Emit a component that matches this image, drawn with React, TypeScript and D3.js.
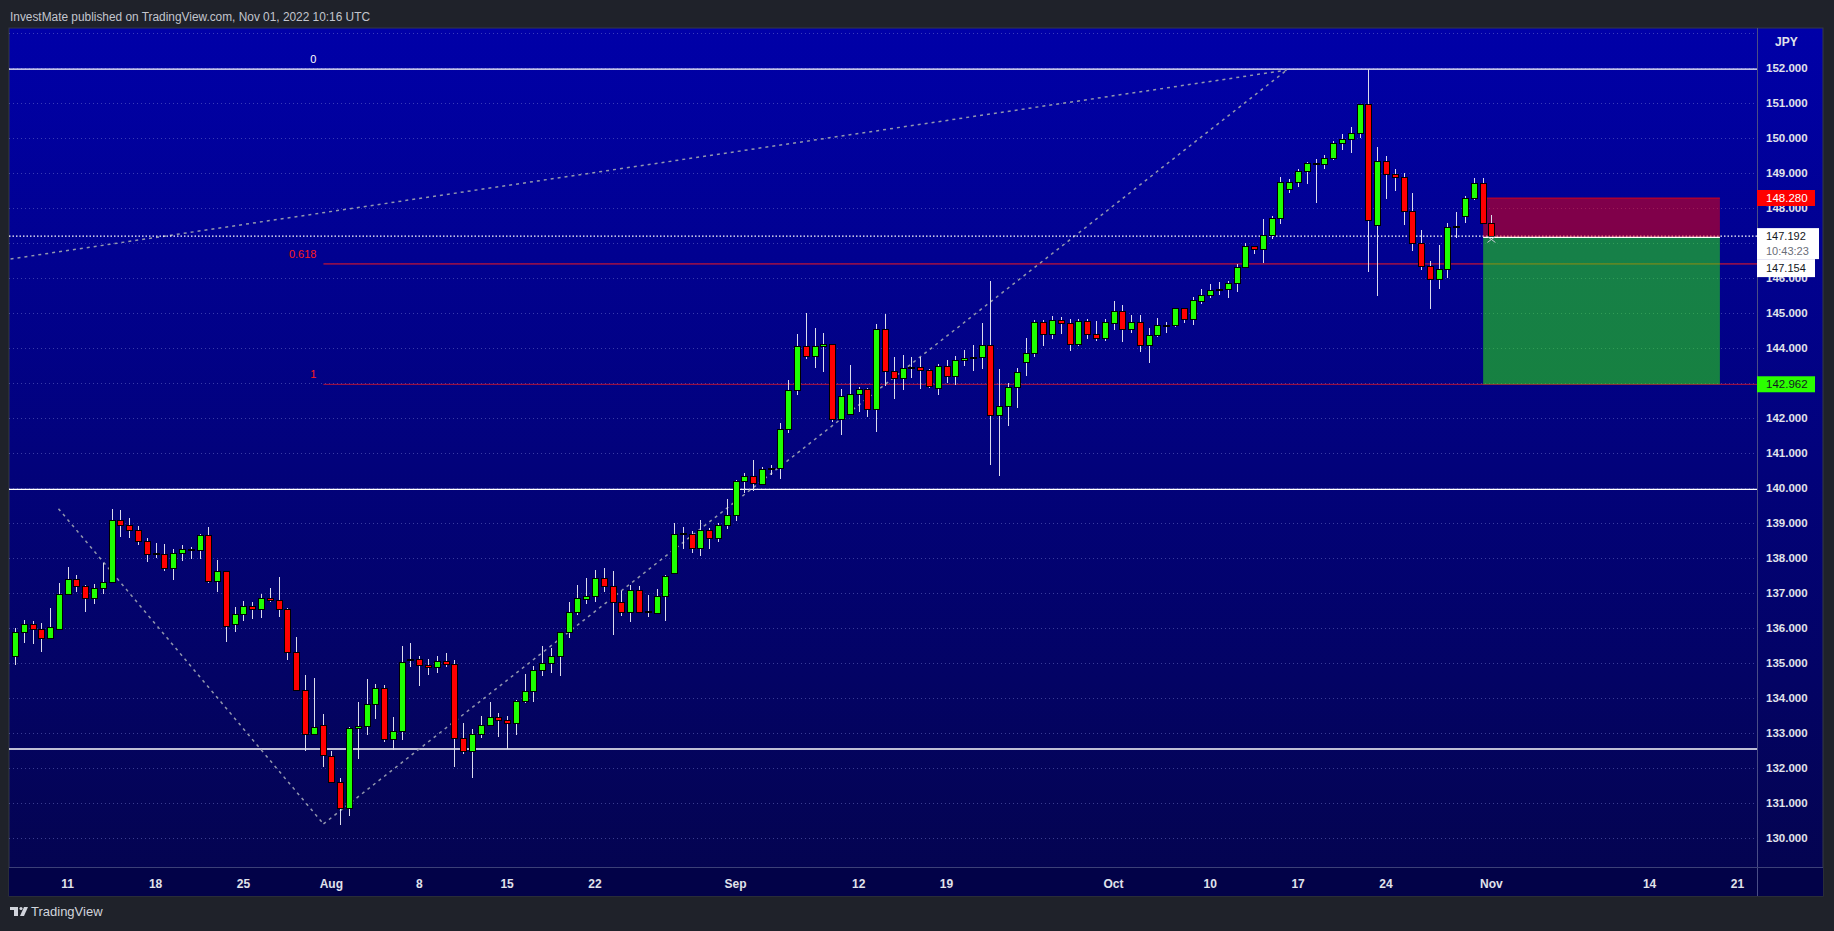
import * as d3 from 'd3'

// 12h bars of USDJPY, bar 0 = first bar of Jul 11 2022
const firstBar = -6

const opens = [
  135.19, 135.88, 136.11, 135.97, 135.7, 135.97, 136.97, 137.4, 137.19, 136.85,
  137.14, 137.31, 139.07, 138.93, 138.78, 138.47, 138.11, 138.11, 137.71, 138.14,
  138.23, 138.22, 138.65, 137.33, 137.62, 136.11, 136.4, 136.61, 136.54, 136.85,
  136.79, 136.54, 135.31, 134.22, 132.97, 133.21, 132.34, 131.6, 130.85, 133.14,
  133.19, 133.82, 134.28, 132.82, 133.04, 135.09, 135.1, 134.94, 134.88, 135.05,
  134.96, 132.85, 132.49, 132.97, 133.22, 133.45, 133.37, 133.28, 133.91, 134.19,
  134.79, 134.99, 135.19, 135.88, 136.45, 136.82, 136.9, 137.42, 137.18, 136.73,
  136.45, 137.08, 136.45, 136.42, 136.91, 137.56, 138.68, 138.68, 138.28, 138.79,
  138.56, 138.93, 139.22, 140.18, 140.33, 140.1, 140.55, 140.55, 141.67, 142.79,
  144.04, 143.75, 144.04, 144.1, 141.96, 142.1, 142.66, 142.82, 142.25, 144.53,
  143.33, 143.12, 143.43, 143.44, 143.36, 142.84, 143.47, 143.19, 143.64, 143.71,
  143.73, 144.06, 142.06, 142.33, 142.87, 143.59, 143.84, 144.73, 144.39, 144.79,
  144.7, 144.1, 144.76, 144.39, 144.27, 144.7, 145.03, 144.53, 144.72, 144.08,
  144.36, 144.64, 144.64, 145.12, 144.82, 145.33, 145.5, 145.65, 145.66, 145.83,
  146.29, 146.9, 146.81, 147.2, 147.7, 148.52, 148.72, 149.04, 149.26, 149.24,
  149.4, 149.84, 149.95, 150.11, 150.95, 147.49, 149.33, 148.95, 148.87, 147.9,
  146.97, 146.33, 145.96, 146.24, 147.44, 147.75, 148.26, 148.7, 147.56,
]
const highs = [
  136.0, 136.23, 136.21, 136.14, 136.57, 137.28, 137.74, 137.52, 137.23, 137.26,
  137.87, 139.4, 139.37, 139.15, 138.92, 138.56, 138.42, 138.4, 138.26, 138.37,
  138.33, 138.69, 138.9, 137.95, 137.62, 136.6, 136.78, 136.75, 136.98, 137.14,
  137.46, 136.58, 135.74, 134.66, 134.57, 133.55, 132.49, 131.71, 133.17, 133.89,
  134.54, 134.4, 134.37, 133.46, 135.49, 135.57, 135.2, 135.13, 135.2, 135.3,
  135.09, 133.29, 133.12, 133.49, 133.89, 133.57, 133.49, 133.95, 134.69, 134.92,
  135.49, 135.42, 135.9, 136.75, 137.23, 137.43, 137.65, 137.72, 137.63, 137.06,
  137.23, 137.2, 136.94, 137.12, 137.52, 139.0, 138.89, 138.77, 139.08, 138.87,
  139.0, 139.69, 140.23, 140.43, 140.8, 140.61, 140.66, 141.86, 143.08, 144.4,
  144.99, 144.57, 144.44, 144.12, 142.83, 143.51, 142.87, 142.86, 144.68, 144.97,
  143.74, 143.8, 143.73, 143.73, 143.39, 143.54, 143.65, 143.77, 143.94, 144.08,
  144.71, 145.92, 143.4, 143.0, 143.44, 144.28, 144.8, 144.8, 144.91, 144.88,
  144.82, 144.82, 144.82, 144.77, 144.82, 145.35, 145.22, 144.94, 144.94, 144.56,
  144.84, 144.73, 145.15, 145.15, 145.46, 145.68, 145.82, 145.89, 145.91, 146.39,
  147.0, 146.9, 147.68, 147.77, 148.88, 148.82, 149.12, 149.32, 149.39, 149.51,
  149.91, 150.1, 150.3, 150.97, 151.96, 149.73, 149.48, 149.11, 148.99, 148.42,
  147.37, 146.48, 146.94, 147.58, 147.89, 148.34, 148.85, 148.85, 147.79,
]
const lows = [
  134.95, 135.57, 135.56, 135.33, 135.68, 135.95, 136.95, 137.04, 136.47, 136.69,
  136.98, 137.31, 138.61, 138.58, 138.37, 137.9, 137.99, 137.64, 137.38, 137.92,
  137.98, 137.98, 137.3, 137.03, 135.59, 135.89, 136.21, 136.26, 136.3, 136.76,
  136.33, 135.09, 134.2, 132.5, 132.95, 132.04, 131.58, 130.38, 130.63, 132.26,
  132.95, 133.4, 132.76, 132.52, 132.82, 134.9, 134.35, 134.66, 134.73, 134.9,
  132.04, 132.42, 131.73, 132.87, 133.2, 132.9, 132.54, 132.95, 133.87, 133.9,
  134.63, 134.73, 134.63, 135.73, 136.37, 136.69, 136.76, 137.04, 135.81, 136.35,
  136.18, 136.42, 136.33, 136.42, 136.21, 137.56, 138.27, 138.15, 138.07, 138.27,
  138.47, 138.84, 139.07, 139.87, 139.92, 140.1, 140.37, 140.26, 141.58, 142.65,
  143.69, 143.43, 143.32, 141.89, 141.51, 142.1, 142.18, 142.03, 141.61, 142.91,
  142.55, 142.81, 143.15, 142.84, 142.85, 142.66, 142.99, 142.94, 143.48, 143.35,
  143.41, 140.67, 140.35, 141.78, 142.29, 143.2, 143.75, 144.05, 144.25, 144.41,
  143.92, 144.05, 144.25, 144.21, 144.2, 144.51, 144.18, 144.43, 143.89, 143.56,
  144.32, 144.42, 144.59, 144.72, 144.65, 145.26, 145.43, 145.51, 145.43, 145.6,
  146.29, 146.68, 146.43, 147.11, 147.55, 148.43, 148.6, 148.69, 148.15, 149.12,
  149.37, 149.65, 149.57, 149.99, 146.18, 145.49, 148.25, 148.49, 147.51, 146.77,
  146.22, 145.11, 145.68, 145.99, 147.15, 147.57, 148.23, 147.54, 147.19,
]
const closes = [
  135.87, 136.11, 135.97, 135.71, 136.02, 136.97, 137.4, 137.19, 136.85, 137.14,
  137.31, 139.07, 138.93, 138.78, 138.47, 138.11, 138.11, 137.71, 138.14, 138.25,
  138.23, 138.65, 137.33, 137.62, 136.04, 136.4, 136.61, 136.54, 136.84, 136.8,
  136.54, 135.31, 134.22, 132.97, 133.17, 132.35, 131.6, 130.85, 133.14, 133.19,
  133.82, 134.28, 132.82, 133.04, 135.02, 135.09, 134.94, 134.88, 135.04, 134.97,
  132.85, 132.49, 132.97, 133.22, 133.45, 133.37, 133.28, 133.91, 134.19, 134.79,
  134.99, 135.19, 135.88, 136.45, 136.85, 136.91, 137.42, 137.18, 136.73, 136.45,
  137.08, 136.45, 136.45, 136.91, 137.48, 138.68, 138.68, 138.28, 138.79, 138.56,
  138.93, 139.22, 140.18, 140.33, 140.12, 140.52, 140.55, 141.67, 142.79, 144.04,
  143.75, 144.04, 144.1, 141.96, 142.62, 142.66, 142.82, 142.25, 144.53, 143.33,
  143.12, 143.42, 143.43, 143.36, 142.89, 143.47, 143.19, 143.64, 143.7, 143.71,
  144.06, 142.08, 142.33, 142.87, 143.3, 143.84, 144.73, 144.38, 144.79, 144.7,
  144.1, 144.76, 144.39, 144.27, 144.73, 145.03, 144.53, 144.72, 144.08, 144.35,
  144.63, 144.64, 145.12, 144.82, 145.35, 145.49, 145.63, 145.65, 145.83, 146.29,
  146.9, 146.81, 147.2, 147.7, 148.73, 148.73, 149.04, 149.27, 149.26, 149.4,
  149.84, 149.95, 150.12, 150.95, 147.63, 149.33, 148.95, 148.87, 147.9, 146.97,
  146.33, 145.96, 146.24, 147.44, 147.44, 148.27, 148.7, 147.56, 147.19,
]

// time axis: bar index of each label
const timeTicks = [0, 10, 20, 30, 40, 50, 60, 76, 90, 100, 119, 130, 140, 150, 162, 180, 190]
const timeLabels = ['11', '18', '25', 'Aug', '8', '15', '22', 'Sep', '12', '19', 'Oct', '10', '17', '24', 'Nov', '14', '21']

const priceTicks = d3.range(130, 153)
const gridLevels = d3.range(130, 154)

// drawings
const horizontalLines = [151.96, 139.96, 132.55]
const fibStartBar = 29.1
const fibTop = 151.96
const fibBottom = 142.96
const fibLevels = [0, 0.618, 1]
const fibColors = ['#ffffff', '#ff1a1a', '#ff1a1a']
const trendLines = [
  [[-1.05, 139.41], [29.1, 130.41]],
  [[29.1, 130.41], [138.7, 151.93]],
  [[-6.5, 146.54], [138.7, 151.93]],
]
const lastPrice = 147.192
const countdown = '10:43:23'
const entryPrice = 147.154
const stopPrice = 148.28
const targetPrice = 142.962
const positionBars = [161.06, 188]

const W = 1834
const H = 931
const PANEL = { left: 9, top: 28, right: 1823, bottom: 896 }
const PLOT_RIGHT = 1757
const TIME_TOP = 867

const UP = '#1eff00'
const DOWN = '#ff0000'
const FONT = '"Liberation Sans", Arial, sans-serif'

export default function App() {
  const xs = d3.scaleLinear().domain([0, 162]).range([67.7, 1491.4])
  const ys = d3.scaleLinear().domain([130, 152]).range([838.3, 67.7])

  const candles = opens.map((o, i) => ({
    k: firstBar + i, o, h: highs[i], l: lows[i], c: closes[i],
  }))

  const line = d3.line<number[]>().x(d => xs(d[0])).y(d => ys(d[1]))
  const fibX = xs(fibStartBar)
  const posX0 = xs(positionBars[0])
  const posX1 = xs(positionBars[1])
  const tagX = PLOT_RIGHT
  const lastY = ys(lastPrice)

  // the white last-price / entry tags hide the tick label underneath them
  const tagTop = lastY - 8
  const tagBottom = lastY + 41
  const visibleTicks = priceTicks.filter(p => !(ys(p) - 5 >= tagTop && ys(p) + 5 <= tagBottom))

  return (
    <svg width={W} height={H} style={{ position: 'absolute', left: 0, top: 0 }} fontFamily={FONT}>
      <defs>
        <linearGradient id="bg" x1="0" y1="0" x2="0" y2="1">
          <stop offset="0%" stopColor="#0000a8" />
          <stop offset="100%" stopColor="#04044e" />
        </linearGradient>
        <clipPath id="plot">
          <rect x={PANEL.left} y={PANEL.top} width={PLOT_RIGHT - PANEL.left} height={TIME_TOP - PANEL.top} />
        </clipPath>
      </defs>

      <rect width={W} height={H} fill="#1f222a" />
      <rect x={PANEL.left} y={PANEL.top} width={PANEL.right - PANEL.left} height={PANEL.bottom - PANEL.top}
        fill="url(#bg)" stroke="#343846" />
      <rect x={PANEL.left} y={TIME_TOP} width={PANEL.right - PANEL.left} height={PANEL.bottom - TIME_TOP} fill="#020248" />

      <g clipPath="url(#plot)">
        {/* grid */}
        {gridLevels.map(p => (
          <line key={p} x1={PANEL.left} x2={PLOT_RIGHT} y1={Math.round(ys(p)) + 0.5} y2={Math.round(ys(p)) + 0.5}
            stroke="#7f86d8" strokeOpacity={0.45} strokeDasharray="1 3" />
        ))}

        {horizontalLines.map(p => (
          <line key={p} x1={PANEL.left} x2={PLOT_RIGHT} y1={ys(p)} y2={ys(p)} stroke="#ffffff" strokeWidth={1.3} />
        ))}

        {fibLevels.slice(1).map((lv, i) => {
          const y = ys(fibTop - lv * (fibTop - fibBottom))
          return <line key={lv} x1={fibX} x2={PLOT_RIGHT} y1={y} y2={y} stroke={fibColors[i + 1]}
            strokeWidth={1} strokeOpacity={i === 0 ? 0.95 : 0.7} />
        })}
        {fibLevels.map((lv, i) => (
          <text key={lv} x={fibX - 7} y={ys(fibTop - lv * (fibTop - fibBottom)) - 6} fill={fibColors[i]}
            fontSize={11} textAnchor="end">{String(lv)}</text>
        ))}

        {trendLines.map((pts, i) => (
          <path key={i} d={line(pts) ?? ''} fill="none" stroke="#9297ad" strokeWidth={1.5} strokeDasharray="3 4" />
        ))}

        <line x1={PANEL.left} x2={PLOT_RIGHT} y1={lastY} y2={lastY} stroke="#ffffff" strokeWidth={1.2} strokeDasharray="1.5 2" />

        {/* position tool */}
        <rect x={posX0} y={ys(stopPrice)} width={posX1 - posX0} height={ys(entryPrice) - ys(stopPrice)}
          fill="#ff0000" fillOpacity={0.5} />
        <rect x={posX0} y={ys(entryPrice)} width={posX1 - posX0} height={ys(targetPrice) - ys(entryPrice)}
          fill="#2bff00" fillOpacity={0.5} />
        <line x1={posX0} x2={posX1} y1={ys(stopPrice)} y2={ys(stopPrice)} stroke="#ff0000" strokeOpacity={0.7} />

        {/* candles */}
        <g shapeRendering="crispEdges">
          {candles.map(d => {
            const x = Math.round(xs(d.k))
            const doji = Math.abs(d.c - d.o) < 0.02
            const top = ys(Math.max(d.o, d.c))
            const bot = ys(Math.min(d.o, d.c))
            return (
              <g key={d.k}>
                <line x1={x + 0.5} x2={x + 0.5} y1={ys(d.h)} y2={ys(d.l)} stroke="#dcdcec" />
                {doji ? (
                  <line x1={x - 3} x2={x + 4} y1={top} y2={top} stroke="#000000" strokeWidth={2} />
                ) : (
                  <rect x={x - 2.5} y={top} width={6} height={Math.max(1, bot - top)}
                    fill={d.c > d.o ? UP : DOWN} stroke="#000000" strokeWidth={1} />
                )}
              </g>
            )
          })}
        </g>

        <line x1={posX0} x2={posX1} y1={ys(entryPrice)} y2={ys(entryPrice)} stroke="#ffffff" strokeWidth={1.3} />
        <g stroke="#c8cad6" strokeWidth={1}>
          <line x1={xs(162) - 4} x2={xs(162) + 4} y1={ys(entryPrice) + 5} y2={ys(entryPrice) - 1} />
          <line x1={xs(162) - 4} x2={xs(162) + 4} y1={ys(entryPrice) - 1} y2={ys(entryPrice) + 5} />
        </g>
      </g>

      {/* axes separators */}
      <line x1={PLOT_RIGHT + 0.5} x2={PLOT_RIGHT + 0.5} y1={PANEL.top} y2={PANEL.bottom} stroke="#4a4e86" />
      <line x1={PANEL.left} x2={PANEL.right} y1={TIME_TOP + 0.5} y2={TIME_TOP + 0.5} stroke="#3c4078" />

      {/* price axis */}
      <text x={1775} y={46} fill="#e0e3eb" fontSize={12} fontWeight="bold">JPY</text>
      {visibleTicks.map(p => (
        <text key={p} x={1766} y={ys(p) + 4} fill="#e0e3eb" fontSize={11.5} fontWeight="bold">{p.toFixed(3)}</text>
      ))}

      {/* price tags */}
      <rect x={tagX} y={ys(stopPrice) - 8} width={58} height={16} fill="#ff0000" />
      <text x={1766} y={ys(stopPrice) + 4} fill="#ffffff" fontSize={11.5}>{stopPrice.toFixed(3)}</text>

      <rect x={tagX} y={tagTop} width={62} height={31} fill="#ffffff" />
      <text x={1766} y={lastY + 3.5} fill="#131722" fontSize={11}>{lastPrice.toFixed(3)}</text>
      <text x={1766} y={lastY + 18.5} fill="#6a6d78" fontSize={11}>{countdown}</text>
      <rect x={tagX} y={lastY + 23} width={58} height={tagBottom - lastY - 23} fill="#ffffff" />
      <text x={1766} y={lastY + 36} fill="#131722" fontSize={11}>{entryPrice.toFixed(3)}</text>

      <rect x={tagX} y={ys(targetPrice) - 8} width={58} height={16} fill="#2bff00" />
      <text x={1766} y={ys(targetPrice) + 4} fill="#131722" fontSize={11.5}>{targetPrice.toFixed(3)}</text>

      {/* time axis */}
      {timeTicks.map((t, i) => (
        <text key={t} x={xs(t)} y={TIME_TOP + 20.5} fill="#e0e3eb" fontSize={12} fontWeight="bold" textAnchor="middle">
          {timeLabels[i]}
        </text>
      ))}

      {/* header & logo */}
      <text x={10} y={21} fill="#c3c6ce" fontSize={12} textLength={360} lengthAdjust="spacingAndGlyphs">
        InvestMate published on TradingView.com, Nov 01, 2022 10:16 UTC
      </text>
      <g fill="#d1d4dc">
        <rect x={10} y={907} width={8} height={3} />
        <rect x={14} y={907} width={4} height={9} />
        <circle cx={21} cy={908.5} r={1.6} />
        <path d="M24 907 L28 907 L24 916 L20 916 Z" />
      </g>
      <text x={31} y={916} fill="#d1d4dc" fontSize={13}>TradingView</text>
    </svg>
  )
}
